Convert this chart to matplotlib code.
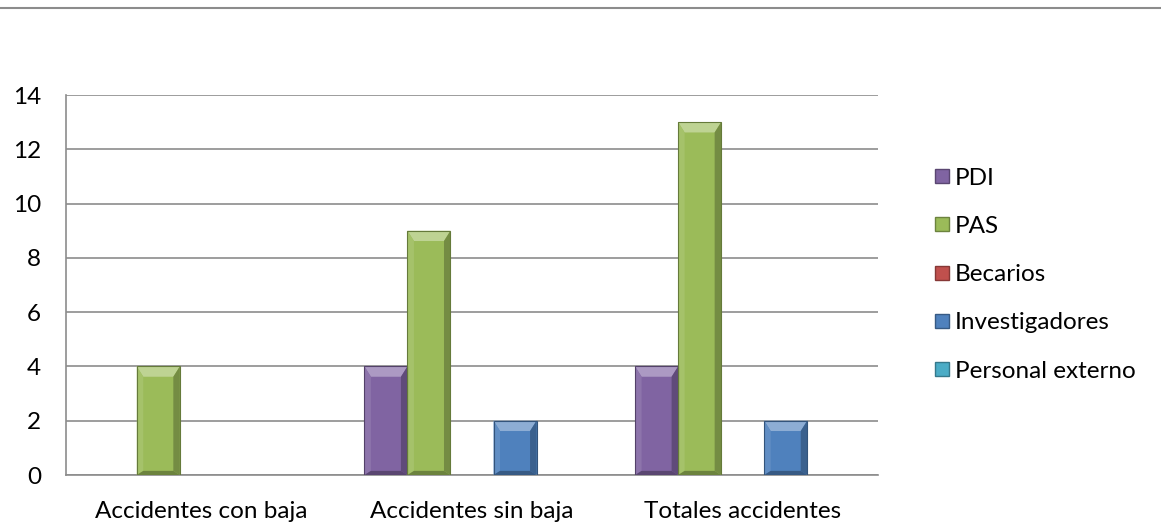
import numpy as np
import matplotlib.pyplot as plt
from matplotlib.patches import Polygon
from matplotlib.lines import Line2D
import matplotlib.colors as mcolors

# --- DATOS ---
categorias = ["Accidentes con baja", "Accidentes sin baja", "Totales accidentes"]
series = ["PDI", "PAS", "Becarios", "Investigadores", "Personal externo"]
pdi = [0, 4, 4]
pas = [4, 9, 13]
becarios = [0, 0, 0]
investigadores = [0, 2, 2]
personal_externo = [0, 0, 0]
valores = [pdi, pas, becarios, investigadores, personal_externo]
colores = ["#8064A2", "#9BBB59", "#C0504D", "#4F81BD", "#4BACC6"]
yticks = [0, 2, 4, 6, 8, 10, 12, 14]

plt.rcParams['font.family'] = ['Lato', 'DejaVu Sans']


def tono(c, f):
    r = np.array(mcolors.to_rgb(c))
    if f > 0:
        r = r + (1 - r) * f
    else:
        r = r * (1 + f)
    return tuple(np.clip(r, 0, 1))


def bisel(ax, bar, color):
    x0 = bar.get_x()
    w = bar.get_width()
    h = bar.get_height()
    if h <= 0:
        return
    bx = 0.024  # bisel horizontal (datos)
    by = 0.38   # bisel vertical (datos)
    by = min(by, h / 3)
    x1 = x0 + w
    # top
    ax.add_patch(Polygon([(x0, h), (x1, h), (x1 - bx, h - by), (x0 + bx, h - by)],
                         closed=True, fc=tono(color, 0.35), ec='none', zorder=3))
    # izquierda
    ax.add_patch(Polygon([(x0, 0), (x0, h), (x0 + bx, h - by), (x0 + bx, by * 0.4)],
                         closed=True, fc=tono(color, 0.1), ec='none', zorder=3))
    # derecha
    ax.add_patch(Polygon([(x1, 0), (x1, h), (x1 - bx, h - by), (x1 - bx, by * 0.4)],
                         closed=True, fc=tono(color, -0.25), ec='none', zorder=3))
    # abajo
    ax.add_patch(Polygon([(x0, 0), (x1, 0), (x1 - bx, by * 0.4), (x0 + bx, by * 0.4)],
                         closed=True, fc=tono(color, -0.3), ec='none', zorder=3))
    ax.add_patch(Polygon([(x0, 0), (x0, h), (x1, h), (x1, 0)], closed=True,
                         fc='none', ec=tono(color, -0.35), lw=0.8, zorder=4))


fig = plt.figure(figsize=(11.61, 5.29), dpi=100)
ax = fig.add_axes([66 / 1161, 1 - 475 / 529, (878 - 66) / 1161, (475 - 95) / 529])

x = np.arange(len(categorias))
ancho = 0.159
for i, (nombre, vals, c) in enumerate(zip(series, valores, colores)):
    barras = ax.bar(x + (i - 2) * ancho, vals, ancho, color=c, zorder=2, label=nombre)
    for b in barras:
        bisel(ax, b, c)

ax.set_xlim(-0.5, 2.5)
ax.set_ylim(0, 14)
ax.set_yticks(yticks)
ax.set_xticks(x)
ax.set_xticklabels(categorias)
ax.yaxis.grid(True, color='#8C8C8C', lw=1.2)
ax.set_axisbelow(True)
for s in ['top', 'right']:
    ax.spines[s].set_visible(False)
for s in ['left', 'bottom']:
    ax.spines[s].set_color('#8C8C8C')
    ax.spines[s].set_linewidth(1.2)
ax.tick_params(length=0, labelsize=17.5, colors='black')
ax.tick_params(axis='y', pad=18)
ax.tick_params(axis='x', pad=19)

handles = [Line2D([], [], marker='s', ls='none', markersize=10, markerfacecolor=c,
                  markeredgecolor=tono(c, -0.3)) for c in colores]
fig.legend(handles, series, loc='upper left', bbox_to_anchor=(920 / 1161, 1 - 158 / 529),
           frameon=False, fontsize=17.5, labelspacing=1.12, handletextpad=0.05,
           handlelength=1.0, borderaxespad=0)

fig.add_artist(Line2D([0, 1], [1 - 8 / 529, 1 - 8 / 529], color='#8C8C8C', lw=1.5))

fig.savefig("out.png", dpi=100)
